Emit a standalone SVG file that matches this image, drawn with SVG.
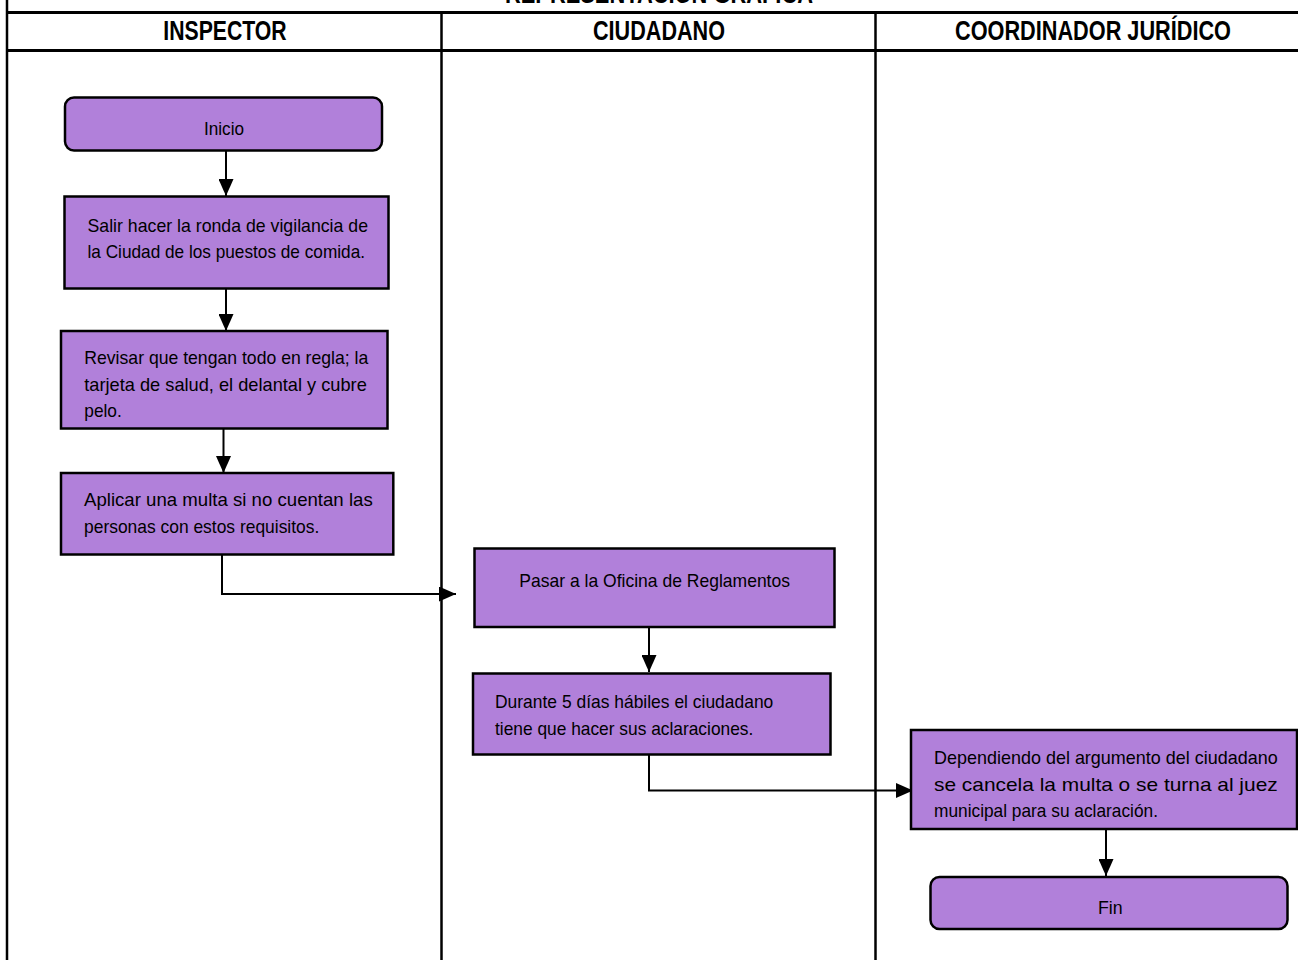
<svg xmlns="http://www.w3.org/2000/svg" width="1298" height="960" viewBox="0 0 1298 960">
<style>
.box{fill:#B180DA;stroke:#000;stroke-width:2.5}
.t{font-family:"Liberation Sans Narrow","Liberation Sans",Arial,sans-serif;font-size:19px;fill:#000}
.h{font-family:"Liberation Sans Narrow","Liberation Sans",Arial,sans-serif;font-size:27px;font-weight:bold;fill:#000}
.grid{stroke:#000;fill:none}
.c{stroke:#000;stroke-width:2;fill:none;marker-end:url(#arr)}
</style>
<defs>
<marker id="arr" markerUnits="userSpaceOnUse" markerWidth="17" markerHeight="15" refX="17" refY="7.5" orient="auto">
<path d="M0,0 L17,7.5 L0,15 z" fill="#000"/>
</marker>
</defs>
<rect x="0" y="0" width="1298" height="960" fill="#fff"/>
<g id="table">
<text class="h" x="505" y="3" textLength="308" lengthAdjust="spacingAndGlyphs" font-size="22">REPRESENTACIÓN GRÁFICA</text>
<line class="grid" x1="7" y1="0" x2="7" y2="960" stroke-width="2.5"/>
<line class="grid" x1="7" y1="12.5" x2="1298" y2="12.5" stroke-width="3"/>
<line class="grid" x1="7" y1="50.5" x2="1298" y2="50.5" stroke-width="3"/>
<line class="grid" x1="441.5" y1="12.5" x2="441.5" y2="960" stroke-width="2.5"/>
<line class="grid" x1="875.5" y1="12.5" x2="875.5" y2="960" stroke-width="2.5"/>
<text class="h" x="163.3" y="40" textLength="123.4" lengthAdjust="spacingAndGlyphs">INSPECTOR</text>
<text class="h" x="593" y="40" textLength="132" lengthAdjust="spacingAndGlyphs">CIUDADANO</text>
<text class="h" x="955" y="40" textLength="276" lengthAdjust="spacingAndGlyphs">COORDINADOR JURÍDICO</text>
</g>
<g id="connectors">
<line class="c" x1="226" y1="151" x2="226" y2="196"/>
<line class="c" x1="226" y1="289" x2="226" y2="331"/>
<line class="c" x1="223.5" y1="428" x2="223.5" y2="473"/>
<path class="c" d="M222,555 V594 H456"/>
<line class="c" x1="649" y1="627" x2="649" y2="672"/>
<path class="c" d="M649,755 V790.5 H913"/>
<line class="c" x1="1106" y1="829" x2="1106" y2="876"/>
</g>
<g id="inicio">
<rect class="box" x="65" y="97.5" width="317" height="53" rx="9"/>
<text class="t" x="204" y="135" textLength="40" lengthAdjust="spacingAndGlyphs">Inicio</text>
</g>
<g id="salir">
<rect class="box" x="64.5" y="196.5" width="324" height="92"/>
<text class="t" x="87.5" y="232" textLength="280.5" lengthAdjust="spacingAndGlyphs">Salir hacer la ronda de vigilancia de</text>
<text class="t" x="87.5" y="258" textLength="277.5" lengthAdjust="spacingAndGlyphs">la Ciudad de los puestos de comida.</text>
</g>
<g id="revisar">
<rect class="box" x="61" y="331" width="326.5" height="97.5"/>
<text class="t" x="84.3" y="364" textLength="284" lengthAdjust="spacingAndGlyphs">Revisar que tengan todo en regla; la</text>
<text class="t" x="84.3" y="391" textLength="282.5" lengthAdjust="spacingAndGlyphs">tarjeta de salud, el delantal y cubre</text>
<text class="t" x="84.3" y="417" textLength="37.5" lengthAdjust="spacingAndGlyphs">pelo.</text>
</g>
<g id="aplicar">
<rect class="box" x="61" y="473" width="332.3" height="81.5"/>
<text class="t" x="84" y="506" textLength="288.7" lengthAdjust="spacingAndGlyphs">Aplicar una multa si no cuentan las</text>
<text class="t" x="84" y="532.5" textLength="235.3" lengthAdjust="spacingAndGlyphs">personas con estos requisitos.</text>
</g>
<g id="pasar">
<rect class="box" x="474.5" y="548.5" width="360" height="78.5"/>
<text class="t" x="519.3" y="587" textLength="270.7" lengthAdjust="spacingAndGlyphs">Pasar a la Oficina de Reglamentos</text>
</g>
<g id="durante">
<rect class="box" x="473" y="673.5" width="357.5" height="81"/>
<text class="t" x="495" y="707.5" textLength="278.3" lengthAdjust="spacingAndGlyphs">Durante 5 días hábiles el ciudadano</text>
<text class="t" x="495" y="734.5" textLength="258.3" lengthAdjust="spacingAndGlyphs">tiene que hacer sus aclaraciones.</text>
</g>
<g id="dependiendo">
<rect class="box" x="911" y="730" width="386" height="99"/>
<text class="t" x="934" y="764" textLength="343.7" lengthAdjust="spacingAndGlyphs">Dependiendo del argumento del ciudadano</text>
<text class="t" x="934" y="790.5" textLength="343.7" lengthAdjust="spacingAndGlyphs">se cancela la multa o se turna al juez</text>
<text class="t" x="934" y="817" textLength="224" lengthAdjust="spacingAndGlyphs">municipal para su aclaración.</text>
</g>
<g id="fin">
<rect class="box" x="930.5" y="877" width="357" height="52" rx="9"/>
<text class="t" x="1098" y="913.5" textLength="24.7" lengthAdjust="spacingAndGlyphs">Fin</text>
</g>
</svg>
